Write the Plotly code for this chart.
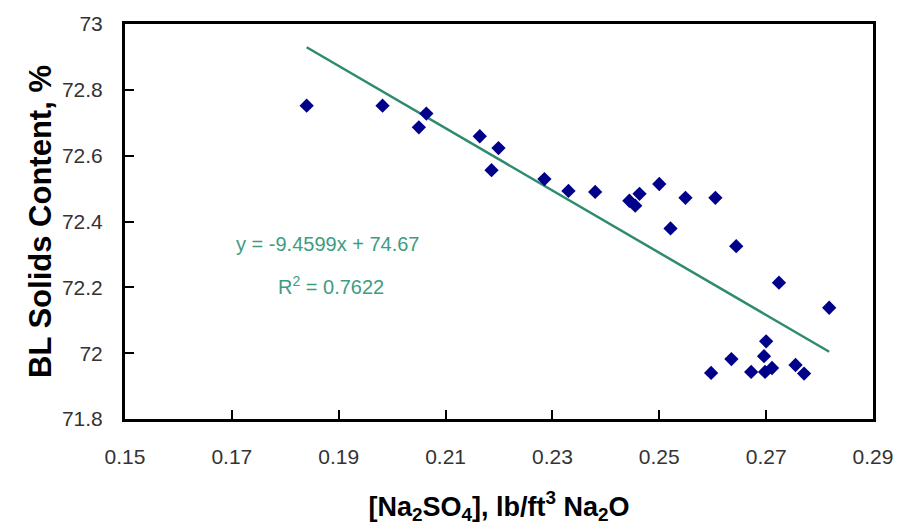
import plotly.graph_objects as go

# Data
na2so4 = [0.1840, 0.1982, 0.2050, 0.2064, 0.2164, 0.2199, 0.2186, 0.2285, 0.2330,
          0.2380, 0.2444, 0.2463, 0.2455, 0.2500, 0.2549, 0.2605, 0.2521, 0.2644,
          0.2724, 0.2818, 0.2700, 0.2635, 0.2696, 0.2597, 0.2672, 0.2698, 0.2711,
          0.2755, 0.2771]
solids = [72.752, 72.752, 72.686, 72.728, 72.659, 72.623, 72.556, 72.529, 72.493,
          72.490, 72.463, 72.484, 72.448, 72.514, 72.472, 72.472, 72.379, 72.325,
          72.214, 72.138, 72.036, 71.982, 71.991, 71.940, 71.943, 71.943, 71.955,
          71.964, 71.938]

# Trendline as printed on the chart
slope = -9.4599
intercept = 74.67
r_squared = 0.7622

x_ticks = [0.15, 0.17, 0.19, 0.21, 0.23, 0.25, 0.27, 0.29]
x_tick_labels = ["0.15", "0.17", "0.19", "0.21", "0.23", "0.25", "0.27", "0.29"]
y_ticks = [71.8, 72.0, 72.2, 72.4, 72.6, 72.8, 73.0]
y_tick_labels = ["71.8", "72", "72.2", "72.4", "72.6", "72.8", "73"]

trend_x = [min(na2so4), max(na2so4)]
trend_y = [slope * v + intercept for v in trend_x]

fig = go.Figure()
fig.add_trace(go.Scatter(
    x=trend_x, y=trend_y, mode="lines",
    line=dict(color="#2E8B70", width=2.5),
    showlegend=False, hoverinfo="skip"))
fig.add_trace(go.Scatter(
    x=na2so4, y=solids, mode="markers",
    marker=dict(symbol="diamond", size=11, color="#00008B"),
    showlegend=False))

font_main = "Liberation Sans, Arial, sans-serif"

fig.add_annotation(
    x=0.1879, y=72.331, xref="x", yref="y",
    text=f"y = {slope}x + {intercept}", showarrow=False,
    font=dict(family=font_main, size=20, color="#3E9C82"))
fig.add_annotation(
    x=0.1885, y=72.205, xref="x", yref="y",
    text=f"R<sup>2</sup> = {r_squared}", showarrow=False,
    font=dict(family=font_main, size=20, color="#3E9C82"))

fig.update_layout(
    width=905, height=529,
    margin=dict(l=125, r=27, t=22, b=107),
    paper_bgcolor="white", plot_bgcolor="white",
    font=dict(family=font_main, size=21, color="#333333"),
    xaxis=dict(
        range=[0.15, 0.29], tickvals=x_ticks, ticktext=x_tick_labels,
        showgrid=False, zeroline=False,
        showline=True, linecolor="black", linewidth=3, mirror=True,
        ticks="inside", ticklen=9, tickwidth=2, tickcolor="black",
        ticklabelstandoff=17,
        tickfont=dict(family=font_main, size=21, color="#333333"),
        title=dict(text="<b>[Na<sub>2</sub>SO<sub>4</sub>], lb/ft<sup>3</sup> Na<sub>2</sub>O</b>",
                   font=dict(family=font_main, size=27, color="black"), standoff=30),
    ),
    yaxis=dict(
        range=[71.8, 73.0], tickvals=y_ticks, ticktext=y_tick_labels,
        showgrid=False, zeroline=False,
        showline=True, linecolor="black", linewidth=3, mirror=True,
        ticks="inside", ticklen=9, tickwidth=2, tickcolor="black",
        ticklabelstandoff=15,
        tickfont=dict(family=font_main, size=21, color="#333333"),
        title=dict(text="<b>BL Solids Content, %</b>",
                   font=dict(family=font_main, size=31, color="black"), standoff=2),
    ),
)

fig.write_html("out.html", config={"displayModeBar": False},
               post_script="document.body.style.margin='0px';")
